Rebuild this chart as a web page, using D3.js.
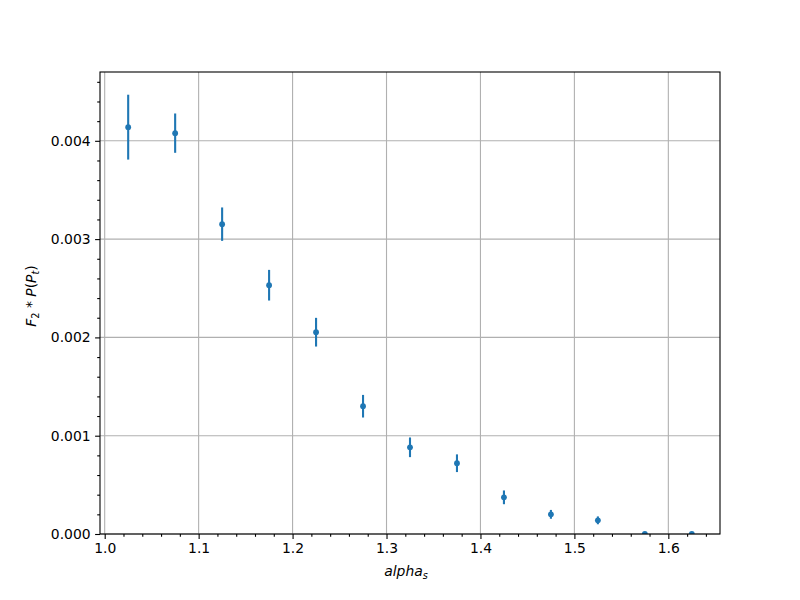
<!DOCTYPE html>
<html><head><meta charset="utf-8">
<script src="https://cdn.jsdelivr.net/npm/d3@7"></script>
<style>body{margin:0;background:#fff}</style>
</head><body>
<svg id="chart" width="800" height="600"></svg>
<script>
const alphaS = [1.025, 1.075, 1.125, 1.175, 1.225, 1.275, 1.325, 1.375, 1.425, 1.475, 1.525, 1.575, 1.625];
const values = [0.004139, 0.004078, 0.003152, 0.002531, 0.002053, 0.00130, 0.000882, 0.000720, 0.000373, 0.000200, 0.000139, 0.0, 0.0];
const errors = [0.00033, 0.00020, 0.00017, 0.000156, 0.000146, 0.000115, 0.000100, 0.000090, 0.000070, 0.000045, 0.000040, 0.000004, 0.000004];
const xTicks = [1.0, 1.1, 1.2, 1.3, 1.4, 1.5, 1.6];
const yTicks = [0.000, 0.001, 0.002, 0.003, 0.004];

const svg = d3.select("#chart");
const L = 100, R = 720, T = 72, B = 534;
const color = "#1f77b4";
const font = "DejaVu Sans";

const x = d3.scaleLinear().domain([0.995, 1.655]).range([L, R]);
const y = d3.scaleLinear().domain([0, 0.0047]).range([B, T]);

svg.append("rect").attr("x",0).attr("y",0).attr("width",800).attr("height",600).attr("fill","#fff");
svg.append("defs").append("clipPath").attr("id","clip")
  .append("rect").attr("x",L).attr("y",T).attr("width",R-L).attr("height",B-T);

// grid
const grid = svg.append("g");
grid.selectAll("line.gx").data(xTicks).enter().append("line")
  .attr("x1",d=>x(d)).attr("x2",d=>x(d)).attr("y1",T).attr("y2",B)
  .attr("stroke","#b0b0b0").attr("stroke-width",1.1);
grid.selectAll("line.gy").data(yTicks).enter().append("line")
  .attr("y1",d=>y(d)).attr("y2",d=>y(d)).attr("x1",L).attr("x2",R)
  .attr("stroke","#b0b0b0").attr("stroke-width",1.1);

// axes
const xMinor = d3.range(1.0, 1.655, 0.02).filter(v => xTicks.every(t => Math.abs(t - v) > 1e-6));
const yMinor = d3.range(0, 0.0047, 0.0002).filter(v => yTicks.every(t => Math.abs(t - v) > 1e-9));

const xAxis = svg.append("g").attr("transform",`translate(0,${B})`)
  .call(d3.axisBottom(x).tickValues(xTicks).tickFormat(d3.format(".1f")).tickSize(4.9).tickPadding(4.5).tickSizeOuter(0));
const xAxisMinor = svg.append("g").attr("transform",`translate(0,${B})`)
  .call(d3.axisBottom(x).tickValues(xMinor).tickFormat("").tickSize(2.8).tickSizeOuter(0));
const yAxis = svg.append("g").attr("transform",`translate(${L},0)`)
  .call(d3.axisLeft(y).tickValues(yTicks).tickFormat(d3.format(".3f")).tickSize(4.9).tickPadding(4.5).tickSizeOuter(0));
const yAxisMinor = svg.append("g").attr("transform",`translate(${L},0)`)
  .call(d3.axisLeft(y).tickValues(yMinor).tickFormat("").tickSize(2.8).tickSizeOuter(0));
[xAxis, xAxisMinor, yAxis, yAxisMinor].forEach(g => {
  g.select(".domain").remove();
  g.selectAll("line").attr("stroke","#000").attr("stroke-width",1.1);
  g.selectAll("text").attr("font-family",font).attr("font-size","13.9px").attr("fill","#000");
});

// error bars and points
const plot = svg.append("g").attr("clip-path","url(#clip)");
const pts = alphaS.map((a,i)=>({a, v: values[i], e: errors[i]}));
plot.selectAll("line.err").data(pts).enter().append("line")
  .attr("x1",d=>x(d.a)).attr("x2",d=>x(d.a))
  .attr("y1",d=>y(d.v - d.e)).attr("y2",d=>y(d.v + d.e))
  .attr("stroke",color).attr("stroke-width",2.1);
plot.selectAll("circle").data(pts).enter().append("circle")
  .attr("cx",d=>x(d.a)).attr("cy",d=>y(d.v)).attr("r",2.9)
  .attr("fill",color);

// spines
svg.append("rect").attr("x",L).attr("y",T).attr("width",R-L).attr("height",B-T)
  .attr("fill","none").attr("stroke","#000").attr("stroke-width",1.1);

// labels
const xl = svg.append("text").attr("x",406).attr("y",576).attr("text-anchor","middle")
  .attr("font-family",font).attr("font-size","13.9px");
xl.append("tspan").attr("font-style","italic").text("alpha");
xl.append("tspan").attr("font-style","italic").attr("font-size","9.7px").attr("dy",2.5).text("s");

const yl = svg.append("text").attr("transform","translate(36,296) rotate(-90)").attr("text-anchor","middle")
  .attr("font-family",font).attr("font-size","13.9px");
yl.append("tspan").attr("font-style","italic").text("F");
yl.append("tspan").attr("font-size","9.7px").attr("dy",2.5).text("2");
yl.append("tspan").attr("dy",-2.5).text(" * ");
yl.append("tspan").attr("font-style","italic").text("P");
yl.append("tspan").text("(");
yl.append("tspan").attr("font-style","italic").text("P");
yl.append("tspan").attr("font-style","italic").attr("font-size","9.7px").attr("dy",2.5).text("t");
yl.append("tspan").attr("dy",-2.5).text(")");
</script>
</body></html>
